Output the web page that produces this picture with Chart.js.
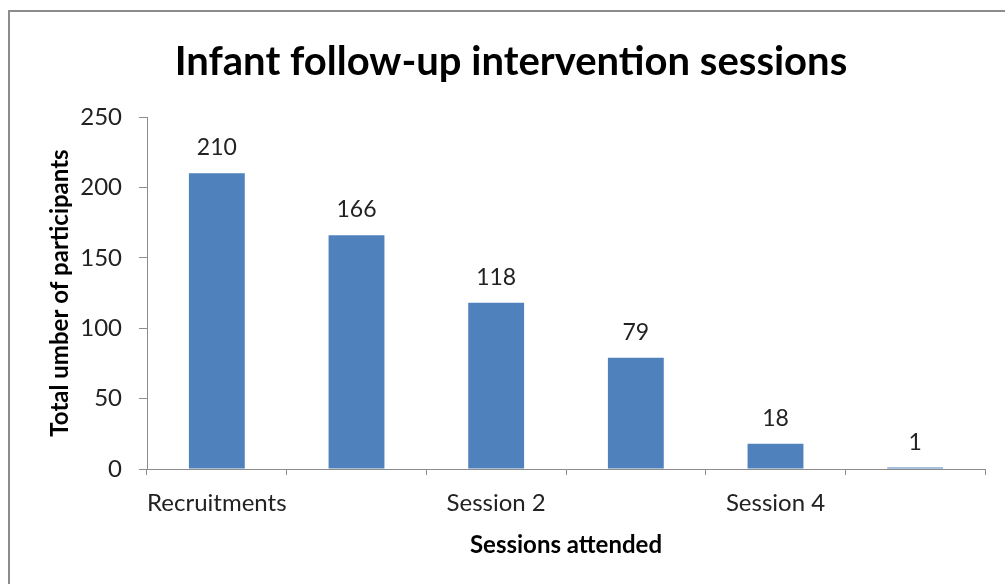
<!DOCTYPE html>
<html>
<head>
<meta charset="utf-8">
<script src="https://cdn.jsdelivr.net/npm/chart.js@4"></script>
<style>
    html, body { margin: 0; padding: 0; background: #fff; overflow: hidden; }
    #frame {
        position: absolute;
        left: 8px;
        top: 10px;
        width: 995px;
        height: 590px;
        border-left: 2px solid #8c8c8c;
        border-top: 2px solid #8c8c8c;
    }
    #frame canvas { display: block; }
</style>
</head>
<body>
<div id="frame"><canvas id="sessions-chart" width="995" height="572"></canvas></div>
<script>
// Sessions and participant counts
const sessions = ['Recruitments', 'Session 1', 'Session 2', 'Session 3', 'Session 4', 'Session 5'];
const participants = [210, 166, 118, 79, 18, 1];
const yTicks = [0, 50, 100, 150, 200, 250];

Chart.defaults.font.family = 'Lato, sans-serif';
Chart.defaults.color = '#222';

// value above each bar
const barValues = {
    id: 'barValues',
    afterDatasetsDraw(chart) {
        const ctx = chart.ctx;
        const meta = chart.getDatasetMeta(0);
        ctx.save();
        ctx.font = '23px Lato, sans-serif';
        ctx.fillStyle = '#222';
        ctx.textAlign = 'center';
        ctx.textBaseline = 'alphabetic';
        meta.data.forEach((bar, i) => {
            ctx.fillText(String(participants[i]), bar.x, bar.y - 18);
        });
        ctx.restore();
    }
};

new Chart(document.getElementById('sessions-chart'), {
    type: 'bar',
    data: {
        labels: sessions,
        datasets: [{
            data: participants,
            backgroundColor: '#4f81bd',
            categoryPercentage: 1,
            barPercentage: 0.4
        }]
    },
    options: {
        responsive: false,
        animation: false,
        layout: { padding: { left: 27, right: 20, top: 0, bottom: 0 } },
        plugins: {
            legend: { display: false },
            tooltip: { enabled: false },
            title: {
                display: true,
                text: 'Infant follow-up intervention sessions',
                color: '#000',
                font: { size: 40, weight: 'bold' },
                padding: { top: 26, bottom: 31 }
            }
        },
        scales: {
            x: {
                afterFit: scale => { scale.height = 115; },
                grid: {
                    offset: true,
                    drawOnChartArea: false,
                    tickLength: 6,
                    color: '#8c8c8c'
                },
                border: { color: '#8c8c8c' },
                ticks: {
                    autoSkip: false,
                    maxRotation: 0,
                    padding: 14,
                    font: { size: 24 },
                    callback: function (value, index) {
                        return index % 2 === 0 ? this.getLabelForValue(value) : '';
                    }
                },
                title: {
                    display: true,
                    text: 'Sessions attended',
                    color: '#000',
                    font: { size: 24, weight: 'bold' },
                    padding: { top: 0, bottom: 24 }
                }
            },
            y: {
                min: 0,
                max: 250,
                afterFit: scale => { scale.width = 110; },
                afterBuildTicks: scale => { scale.ticks = yTicks.map(v => ({ value: v })); },
                grid: {
                    drawOnChartArea: false,
                    tickLength: 8,
                    color: '#8c8c8c'
                },
                border: { color: '#8c8c8c' },
                ticks: {
                    padding: 17,
                    font: { size: 24 }
                },
                title: {
                    display: true,
                    text: 'Total umber of participants',
                    color: '#000',
                    font: { size: 24, weight: 'bold' },
                    padding: { top: 9, bottom: 0 }
                }
            }
        }
    },
    plugins: [barValues]
});
</script>
</body>
</html>
